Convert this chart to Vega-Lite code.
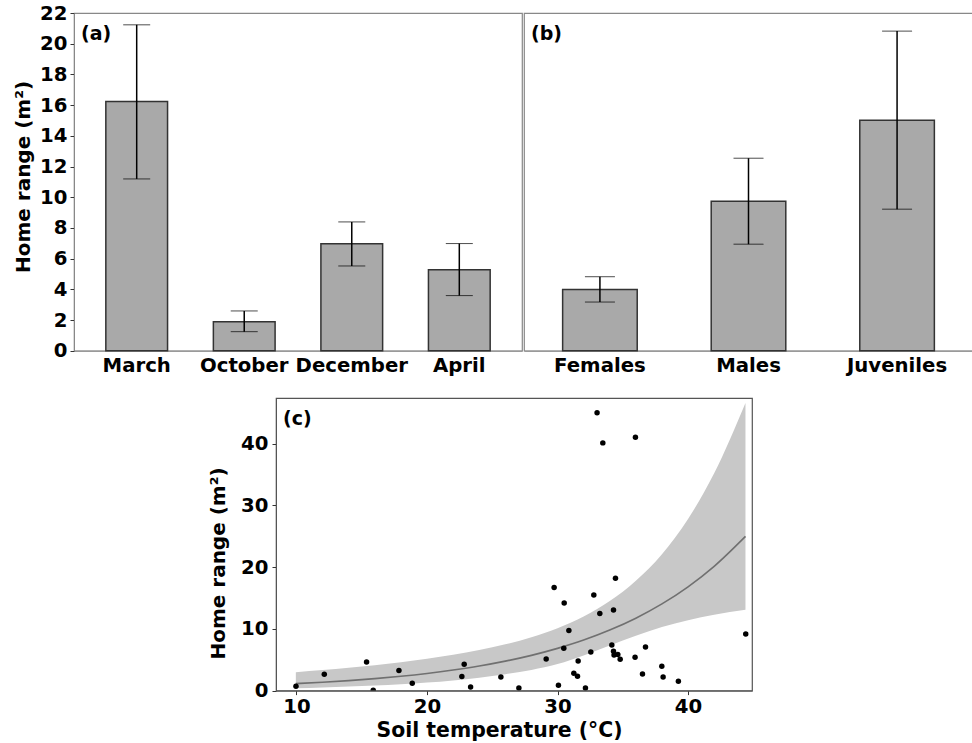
{
  "$schema": "https://vega.github.io/schema/vega-lite/v6.json",
  "background": "white",
  "padding": {"left": 13, "top": 2, "right": 0, "bottom": 0},
  "config": {
    "font": "DejaVu Sans",
    "view": {"stroke": "#888888", "strokeWidth": 1.2},
    "axis": {
      "labelFont": "DejaVu Sans", "labelFontWeight": "bold", "labelFontSize": 19.7, "labelColor": "black",
      "titleFont": "DejaVu Sans", "titleFontWeight": "bold", "titleFontSize": 20, "titleColor": "black",
      "grid": false, "domainColor": "#888888", "tickColor": "#333333", "tickSize": 4, "labelOverlap": false
    },
    "title": {"font": "DejaVu Sans", "fontWeight": "bold", "fontSize": 19, "anchor": "start", "frame": "group", "offset": -31, "dx": 7, "color": "black"}
  },
  "datasets": {
    "season": [
      {"cat": "March", "mean": 16.23, "lo": 11.19, "hi": 21.23},
      {"cat": "October", "mean": 1.89, "lo": 1.24, "hi": 2.59},
      {"cat": "December", "mean": 6.96, "lo": 5.52, "hi": 8.39},
      {"cat": "April", "mean": 5.28, "lo": 3.59, "hi": 6.98}
    ],
    "group": [
      {"cat": "Females", "mean": 3.98, "lo": 3.17, "hi": 4.82},
      {"cat": "Males", "mean": 9.74, "lo": 6.94, "hi": 12.54},
      {"cat": "Juveniles", "mean": 15.02, "lo": 9.22, "hi": 20.82}
    ],
    "pts": [
      {"x": 9.96, "y": 0.70}, {"x": 12.13, "y": 2.64}, {"x": 15.37, "y": 4.64}, {"x": 15.88, "y": 0.05},
      {"x": 17.85, "y": 3.24}, {"x": 18.87, "y": 1.18}, {"x": 22.67, "y": 2.27}, {"x": 22.85, "y": 4.26},
      {"x": 23.34, "y": 0.59}, {"x": 25.66, "y": 2.21}, {"x": 27.04, "y": 0.43}, {"x": 29.13, "y": 5.13},
      {"x": 29.74, "y": 16.69}, {"x": 30.07, "y": 0.86}, {"x": 30.48, "y": 6.86}, {"x": 30.51, "y": 14.2},
      {"x": 30.87, "y": 9.72}, {"x": 31.25, "y": 2.80}, {"x": 31.53, "y": 2.32}, {"x": 31.58, "y": 4.80},
      {"x": 32.14, "y": 0.43}, {"x": 32.55, "y": 6.26}, {"x": 32.78, "y": 15.5}, {"x": 33.03, "y": 45.0},
      {"x": 33.24, "y": 12.48}, {"x": 33.47, "y": 40.13}, {"x": 34.16, "y": 7.39}, {"x": 34.29, "y": 13.07},
      {"x": 34.29, "y": 6.37}, {"x": 34.33, "y": 5.77}, {"x": 34.44, "y": 18.2}, {"x": 34.62, "y": 5.83},
      {"x": 34.8, "y": 5.07}, {"x": 35.94, "y": 5.40}, {"x": 35.97, "y": 41.05}, {"x": 36.51, "y": 2.69},
      {"x": 36.74, "y": 7.07}, {"x": 37.99, "y": 3.94}, {"x": 38.09, "y": 2.21}, {"x": 39.26, "y": 1.51},
      {"x": 44.42, "y": 9.17}
    ],
    "fit": [
      {"x": 9.95, "fit": 1.13, "lo": 0.40, "hi": 2.99},
      {"x": 12, "fit": 1.35, "lo": 0.52, "hi": 3.32},
      {"x": 14, "fit": 1.62, "lo": 0.66, "hi": 3.70},
      {"x": 16, "fit": 1.94, "lo": 0.82, "hi": 4.12},
      {"x": 18, "fit": 2.32, "lo": 1.02, "hi": 4.60},
      {"x": 20, "fit": 2.78, "lo": 1.30, "hi": 5.17},
      {"x": 22, "fit": 3.33, "lo": 1.65, "hi": 5.82},
      {"x": 24, "fit": 3.98, "lo": 2.10, "hi": 6.57},
      {"x": 26, "fit": 4.77, "lo": 2.65, "hi": 7.50},
      {"x": 28, "fit": 5.71, "lo": 3.35, "hi": 8.65},
      {"x": 30, "fit": 6.84, "lo": 4.30, "hi": 10.1},
      {"x": 32, "fit": 8.18, "lo": 5.70, "hi": 12.0},
      {"x": 34, "fit": 9.80, "lo": 7.30, "hi": 14.5},
      {"x": 36, "fit": 11.73, "lo": 8.90, "hi": 17.8},
      {"x": 38, "fit": 14.04, "lo": 10.3, "hi": 22.1},
      {"x": 40, "fit": 16.81, "lo": 11.4, "hi": 27.8},
      {"x": 42, "fit": 20.13, "lo": 12.3, "hi": 35.2},
      {"x": 44.4, "fit": 24.98, "lo": 13.1, "hi": 46.6}
    ]
  },
  "spacing": 21,
  "vconcat": [
    {
      "spacing": 0,
      "hconcat": [
        {
          "width": 448, "height": 337.7,
          "data": {"name": "season"},
          "title": {"text": "(a)", "offset": -41},
          "encoding": {
            "x": {"field": "cat", "type": "nominal", "sort": null,
                  "scale": {"paddingInner": 0.426, "paddingOuter": 0.296},
                  "axis": {"title": null, "labelAngle": 0, "ticks": false, "labelPadding": 5}}
          },
          "layer": [
            {
              "mark": {"type": "bar", "fill": "#a9a9a9", "stroke": "#333333", "strokeWidth": 1.5},
              "encoding": {
                "y": {"field": "mean", "type": "quantitative", "scale": {"domain": [0, 22], "nice": false},
                      "axis": {"title": "Home range (m²)", "values": [0, 2, 4, 6, 8, 10, 12, 14, 16, 18, 20, 22], "labelPadding": 3, "titlePadding": 6, "titleY": 163.5}}
              }
            },
            {
              "mark": {"type": "errorbar", "ticks": {"size": 27, "color": "black", "strokeWidth": 1.5}, "rule": {"color": "black", "strokeWidth": 1.5}},
              "encoding": {
                "y": {"field": "lo", "type": "quantitative",
                      "axis": {"title": "Home range (m²)", "values": [0, 2, 4, 6, 8, 10, 12, 14, 16, 18, 20, 22], "labelPadding": 3, "titlePadding": 6, "titleY": 163.5}},
                "y2": {"field": "hi"}
              }
            }
          ]
        },
        {
          "width": 449, "height": 337.7,
          "data": {"name": "group"},
          "title": {"text": "(b)"},
          "encoding": {
            "x": {"field": "cat", "type": "nominal", "sort": null,
                  "scale": {"paddingInner": 0.498, "paddingOuter": 0.26},
                  "axis": {"title": null, "labelAngle": 0, "ticks": false, "labelPadding": 5}}
          },
          "layer": [
            {
              "mark": {"type": "bar", "fill": "#a9a9a9", "stroke": "#333333", "strokeWidth": 1.5},
              "encoding": {
                "y": {"field": "mean", "type": "quantitative", "scale": {"domain": [0, 22], "nice": false}, "axis": null}
              }
            },
            {
              "mark": {"type": "errorbar", "ticks": {"size": 30, "color": "black", "strokeWidth": 1.5}, "rule": {"color": "black", "strokeWidth": 1.5}},
              "encoding": {
                "y": {"field": "lo", "type": "quantitative", "axis": null},
                "y2": {"field": "hi"}
              }
            }
          ]
        }
      ]
    },
    {
      "spacing": 0,
      "hconcat": [
        {
          "width": 134, "height": 10,
          "data": {"values": []},
          "mark": "point",
          "view": {"stroke": null}
        },
        {
          "width": 476, "height": 292.6,
          "title": {"text": "(c)"},
          "view": {"stroke": "#555555"},
          "layer": [
            {
              "data": {"name": "fit"},
              "mark": {"type": "area", "color": "#c8c8c8", "opacity": 1, "interpolate": "monotone"},
              "encoding": {
                "x": {"field": "x", "type": "quantitative", "scale": {"domain": [8.43, 44.9], "nice": false, "zero": false},
                      "axis": {"title": "Soil temperature (°C)", "values": [10, 20, 30, 40], "labelPadding": 2, "titlePadding": 4, "titleX": 223, "titleFontSize": 20.4, "domainColor": "#555555"}},
                "y": {"field": "lo", "type": "quantitative", "scale": {"domain": [0, 47.4], "nice": false},
                      "axis": {"title": "Home range (m²)", "values": [0, 10, 20, 30, 40], "labelPadding": 4, "titlePadding": 12, "titleY": 165, "domainColor": "#555555"}},
                "y2": {"field": "hi"}
              }
            },
            {
              "data": {"name": "fit"},
              "mark": {"type": "line", "color": "#707070", "strokeWidth": 1.6, "interpolate": "monotone"},
              "encoding": {
                "x": {"field": "x", "type": "quantitative", "axis": {"title": "Soil temperature (°C)"}},
                "y": {"field": "fit", "type": "quantitative", "axis": {"title": "Home range (m²)"}}
              }
            },
            {
              "data": {"name": "pts"},
              "mark": {"type": "circle", "color": "black", "size": 30, "opacity": 1, "clip": true},
              "encoding": {
                "x": {"field": "x", "type": "quantitative", "axis": {"title": "Soil temperature (°C)"}},
                "y": {"field": "y", "type": "quantitative", "axis": {"title": "Home range (m²)"}}
              }
            }
          ]
        }
      ]
    }
  ]
}
